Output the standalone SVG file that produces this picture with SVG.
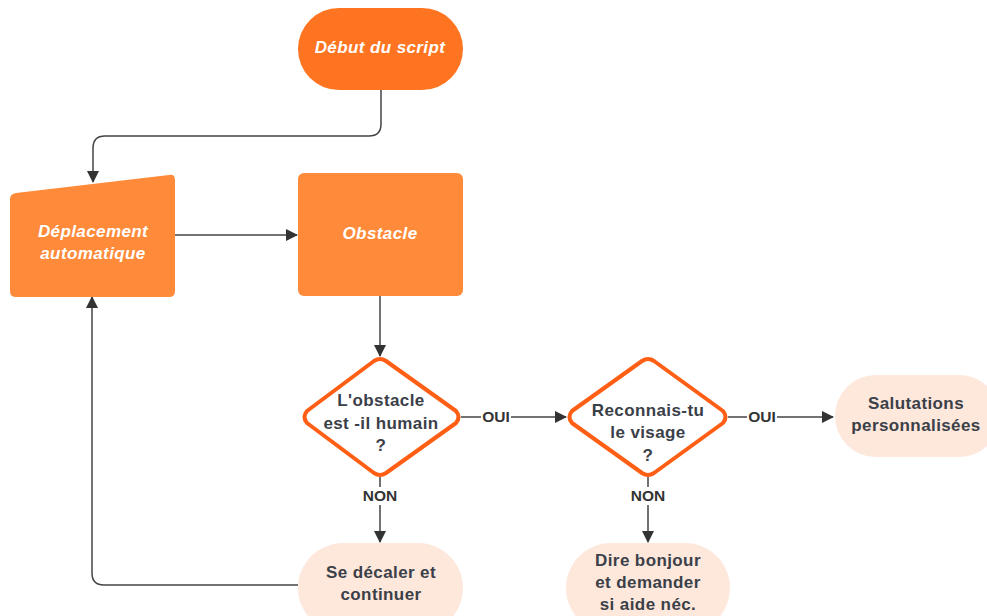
<svg xmlns="http://www.w3.org/2000/svg" width="987" height="616" viewBox="0 0 987 616">
<defs>
<marker id="arr" viewBox="0 0 12 12" refX="11" refY="6" markerWidth="13" markerHeight="12" markerUnits="userSpaceOnUse" orient="auto">
<path d="M0,0 L12,6 L0,12 Z" fill="#333"/>
</marker>
<style>
.c{fill:none;stroke:#444;stroke-width:1.5}
.w{font-family:"Liberation Sans",Arial,sans-serif;font-weight:bold;font-style:italic;font-size:17px;fill:#fff;text-anchor:middle;letter-spacing:0.4px}
.d{font-family:"Liberation Sans",Arial,sans-serif;font-weight:bold;font-size:17px;fill:#3b4048;text-anchor:middle;letter-spacing:0.4px}
.l{font-family:"Liberation Sans",Arial,sans-serif;font-weight:bold;font-size:15.5px;fill:#333;text-anchor:middle}
.o{fill:#ff8a3a}
.p{fill:#fee8dc}
.dm{fill:#fff;stroke:#ff5f15;stroke-width:4;stroke-linejoin:round}
</style>
</defs>
<rect width="987" height="616" fill="#fff"/>
<g id="connectors">
<path class="c" d="M381,90 V124 Q381,136 369,136 H105 Q93,136 93,148 V182" marker-end="url(#arr)"/>
<path class="c" d="M175,235 H297" marker-end="url(#arr)"/>
<path class="c" d="M380,296 V356" marker-end="url(#arr)"/>
<path class="c" d="M461,417 H481 M511,417 H566" marker-end="url(#arr)"/>
<path class="c" d="M728,417 H747 M777,417 H833" marker-end="url(#arr)"/>
<path class="c" d="M380,477 V487 M380,505 V542" marker-end="url(#arr)"/>
<path class="c" d="M648,477 V487 M648,505 V542" marker-end="url(#arr)"/>
<path class="c" d="M298,585 H104 Q92,585 92,573 V297" marker-end="url(#arr)"/>
<text class="l" x="496" y="422">OUI</text>
<text class="l" x="762" y="422">OUI</text>
<text class="l" x="380" y="501">NON</text>
<text class="l" x="648" y="501">NON</text>
</g>
<g id="start">
<rect x="298" y="8" width="165" height="82" rx="41" fill="#ff7420"/>
<text class="w" x="380" y="53">Début du script</text>
</g>
<g id="deplacement">
<path d="M16,193 L169,175 Q175,174 175,180 V291 Q175,297 169,297 H16 Q10,297 10,291 V199 Q10,194 16,193 Z" class="o"/>
<text class="w" x="93" y="237">Déplacement</text>
<text class="w" x="93" y="259">automatique</text>
</g>
<g id="obstacle">
<rect x="298" y="173" width="165" height="123" rx="6" class="o"/>
<text class="w" x="380" y="239">Obstacle</text>
</g>
<g id="humain">
<path class="dm" d="M374,361 Q380,357 386,361 L456,411 Q461,417 456,423 L386,473 Q380,477 374,473 L307,423 Q302,417 307,411 Z"/>
<text class="d" x="381" y="406">L'obstacle</text>
<text class="d" x="381" y="429">est -il humain</text>
<text class="d" x="381" y="451">?</text>
</g>
<g id="visage">
<path class="dm" d="M642,361 Q648,357 654,361 L723,411 Q728,417 723,423 L654,473 Q648,477 642,473 L572,423 Q567,417 572,411 Z"/>
<text class="d" x="648" y="416">Reconnais-tu</text>
<text class="d" x="648" y="438">le visage</text>
<text class="d" x="648" y="461">?</text>
</g>
<g id="salutations">
<rect x="835" y="375" width="165" height="82" rx="41" class="p"/>
<text class="d" x="916" y="409">Salutations</text>
<text class="d" x="916" y="431">personnalisées</text>
</g>
<g id="decaler">
<rect x="298" y="543" width="165" height="90" rx="45" class="p"/>
<text class="d" x="381" y="578">Se décaler et</text>
<text class="d" x="381" y="600">continuer</text>
</g>
<g id="bonjour">
<rect x="566" y="543" width="164" height="90" rx="45" class="p"/>
<text class="d" x="648" y="566">Dire bonjour</text>
<text class="d" x="648" y="588">et demander</text>
<text class="d" x="648" y="610">si aide néc.</text>
</g>
</svg>
